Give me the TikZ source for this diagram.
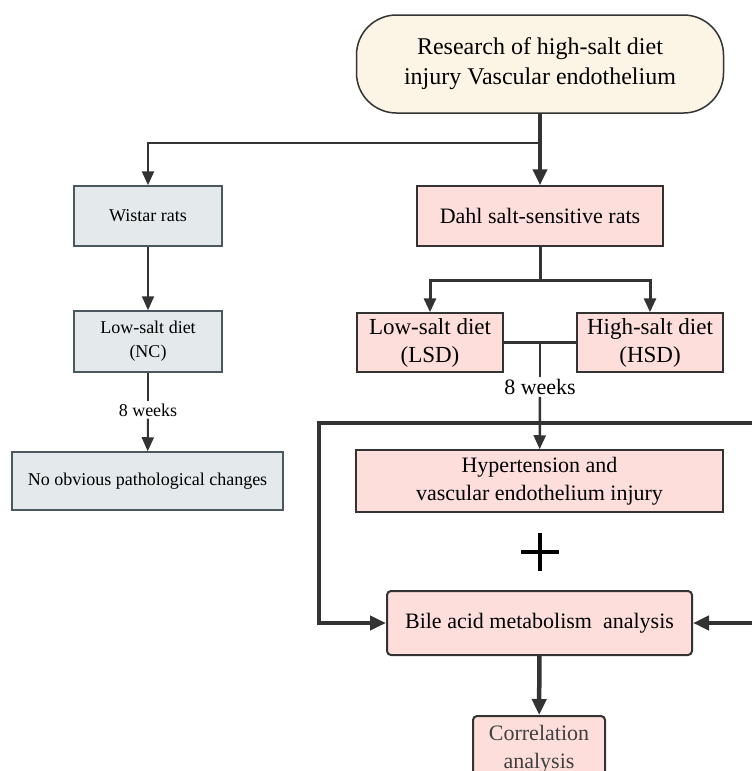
\documentclass[tikz,border=0pt]{standalone}
\usepackage{fontspec}
\setmainfont{Liberation Serif}
\usetikzlibrary{arrows.meta}
\definecolor{cream}{HTML}{FCF4E4}
\definecolor{wistargray}{HTML}{E4E9EB}
\definecolor{dahlpink}{HTML}{FDDEDB}
\definecolor{slate}{HTML}{4A5860}
\definecolor{linegray}{HTML}{333333}

\begin{document}
\begin{tikzpicture}[x=1pt,y=-1pt,
    box/.style={draw=linegray,line width=1.5pt,inner sep=0pt,align=center},
    wbox/.style={box,fill=wistargray,draw=slate,font=\fontsize{18}{24}\selectfont},
    dbox/.style={box,fill=dahlpink,font=\fontsize{22}{28}\selectfont},
    weeks/.style={inner sep=2pt},
    link/.style={draw=linegray,line width=2pt},
    arr/.style={link,-{Triangle[length=14pt,width=12pt]}},
    thickarr/.style={link,line width=4.5pt,-{Triangle[length=16pt,width=14pt]}}]
    \clip (0,0) rectangle (752,771);

    \node[box,fill=cream,rounded corners=40pt,minimum width=367pt,minimum height=98pt,
          font=\fontsize{24}{30}\selectfont] (top) at (540,64)
          {Research of high-salt diet\\injury Vascular endothelium};

    % Wistar branch
    \node[wbox,minimum width=148pt,minimum height=60pt] (wistar) at (148,216) {Wistar rats};
    \node[wbox,minimum width=148pt,minimum height=61pt] (nc) at (148,341.5) {Low-salt diet\\(NC)};
    \node[weeks,font=\fontsize{18}{22}\selectfont] (wkl) at (148,410) {8 weeks};
    \node[wbox,minimum width=271pt,minimum height=58pt] (none) at (147.5,481) {No obvious pathological changes};

    % Dahl branch
    \node[dbox,minimum width=246pt,minimum height=60pt] (dahl) at (540,216) {Dahl salt-sensitive rats};
    \node[dbox,font=\fontsize{23}{28}\selectfont,minimum width=146pt,minimum height=59pt] (lsd) at (430,342.5) {Low-salt diet\\(LSD)};
    \node[dbox,font=\fontsize{23}{28}\selectfont,minimum width=146pt,minimum height=59pt] (hsd) at (650,342.5) {High-salt diet\\(HSD)};
    \node[weeks,font=\fontsize{22}{26}\selectfont] (wkr) at (540,387) {8 weeks};
    \node[dbox,minimum width=367pt,minimum height=62pt] (hyp) at (539.5,481) {Hypertension and\\vascular endothelium injury};
    \node[dbox,rounded corners=4pt,line width=2pt,minimum width=305pt,minimum height=64pt] (bile) at (539.5,623) {Bile acid metabolism~ analysis};
    \node[dbox,rounded corners=4pt,line width=2pt,minimum width=132pt,minimum height=66pt,
          anchor=north,text=black!75] (corr) at (539,715) {Correlation\\analysis};

    \coordinate (split) at (540,143);
    \coordinate (dsplit) at (540,280);
    \coordinate (plus) at (540,552);
    \coordinate (frl) at (319,423);
    \coordinate (frr) at (790,423);

    \draw[thickarr,line width=4pt] (top) -- (dahl);
    \draw[arr,line width=2.5pt] (split) -| (wistar);
    \draw[arr] (wistar) -- (nc);
    \draw[link] (nc) -- (wkl);
    \draw[arr] (wkl) -- (none);

    \draw[link,line width=3pt] (dahl) -- (dsplit);
    \draw[arr,line width=3pt] (dsplit) -| (lsd);
    \draw[arr,line width=3pt] (dsplit) -| (hsd);
    \draw[link,line width=3pt] (lsd) -- coordinate (mid) (hsd);
    \draw[link,line width=2.5pt] (mid) -- (wkr);
    \draw[arr,line width=2.5pt] (wkr) -- (hyp);

    \draw[line width=4.5pt,black] ([xshift=-19pt]plus) -- ([xshift=19pt]plus)
        ([yshift=-19pt]plus) -- ([yshift=19pt]plus);

    \draw[thickarr] (frr) -- (frl) |- (bile.west);
    \draw[thickarr] (frr) |- (bile.east);
    \draw[thickarr] (bile) -- (corr);
\end{tikzpicture}
\end{document}
